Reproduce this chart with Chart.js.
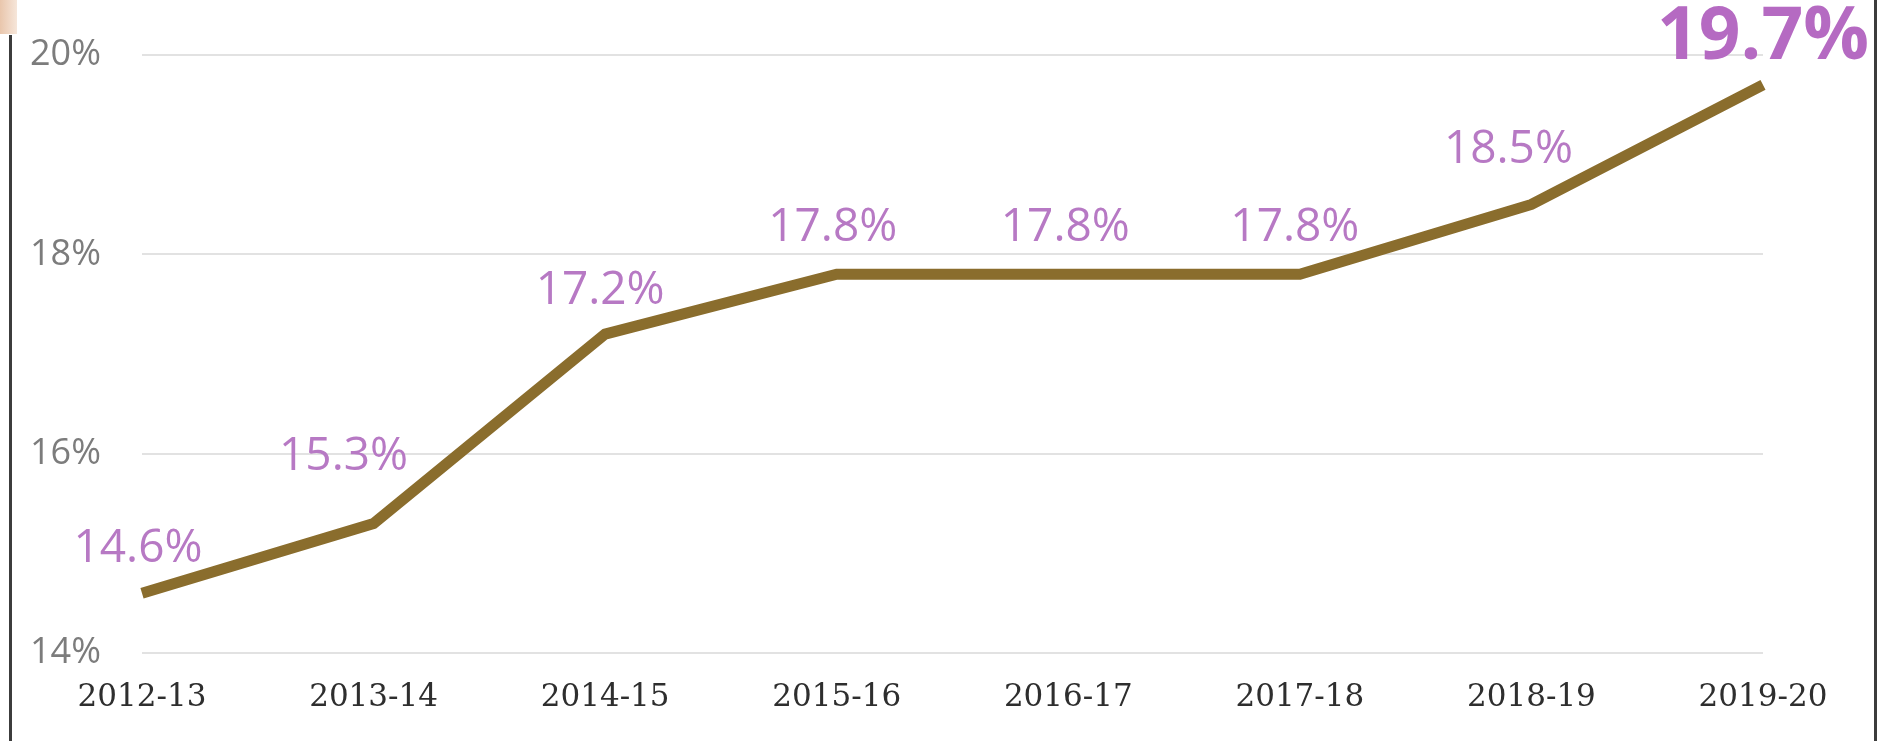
<!DOCTYPE html>
<html>
<head>
<meta charset="utf-8">
<script src="https://cdn.jsdelivr.net/npm/chart.js@4.4.1/dist/chart.umd.min.js"></script>
<style>
  html, body { margin: 0; padding: 0; background: #fff; }
  #wrap { position: relative; width: 1893px; height: 741px; overflow: hidden; }
  #chart { position: absolute; left: 0; top: 0; }
  .edge { position: absolute; background: #3c3c3c; width: 3px; }
  #corner { position: absolute; left: 0; top: 0; width: 17px; height: 34px;
            background: linear-gradient(90deg, #e9c6ac, #f6e6da); }
</style>
</head>
<body>
<div id="wrap">
  <canvas id="chart" width="1893" height="741"></canvas>
  <div id="corner"></div>
  <div class="edge" style="left:9px; top:35px; height:706px;"></div>
  <div class="edge" style="left:1874px; top:0; height:741px;"></div>
</div>
<script>
const years = ['2012-13', '2013-14', '2014-15', '2015-16', '2016-17', '2017-18', '2018-19', '2019-20'];
const shares = [14.6, 15.3, 17.2, 17.8, 17.8, 17.8, 18.5, 19.7];
const yTicks = [14, 16, 18, 20];

// nudges for the value labels (px, relative to the point)
const labelDx = [-4, -30, -5, -4, -3, -5, -23, 0];
const labelDy = [44, 67, 43, 46, 46, 46, 55, 47];

const valueLabels = {
    id: 'valueLabels',
    afterDatasetsDraw(chart) {
        const ctx = chart.ctx;
        const meta = chart.getDatasetMeta(0);
        ctx.save();
        ctx.textAlign = 'center';
        ctx.textBaseline = 'middle';
        meta.data.forEach((pt, i) => {
            const last = i === shares.length - 1;
            ctx.fillStyle = last ? '#b56ac2' : '#b779c4';
            ctx.font = last ? 'bold 73px "Open Sans"' : '46px "Open Sans"';
            ctx.fillText(shares[i].toFixed(1) + '%', pt.x + labelDx[i], pt.y - labelDy[i]);
        });
        ctx.restore();
    }
};

const ctx = document.getElementById('chart').getContext('2d');
new Chart(ctx, {
    type: 'line',
    data: {
        labels: years,
        datasets: [{
            data: shares,
            borderColor: '#8a6d2d',
            borderWidth: 11,
            pointRadius: 0,
            tension: 0,
            fill: false
        }]
    },
    options: {
        responsive: false,
        animation: false,
        layout: { padding: { left: 30, right: 130, top: 55, bottom: 0 } },
        plugins: {
            legend: { display: false },
            tooltip: { enabled: false }
        },
        scales: {
            x: {
                offset: false,
                grid: { display: false, drawTicks: false },
                border: { display: false },
                ticks: {
                    padding: 26,
                    maxRotation: 0,
                    color: '#2e2e2e',
                    font: { family: 'DejaVu Serif', size: 31 }
                },
                afterFit: s => { s.height = 741 - 653; }
            },
            y: {
                min: 14,
                max: 20,
                afterBuildTicks: s => { s.ticks = yTicks.map(v => ({ value: v })); },
                grid: { color: '#e2e2e2', lineWidth: 2, drawTicks: false },
                border: { display: false },
                ticks: {
                    crossAlign: 'far',
                    color: '#7c7c7c',
                    font: { family: 'Open Sans', size: 36 },
                    callback: v => v + '%'
                },
                afterFit: s => { s.width = 112; }
            }
        }
    },
    plugins: [valueLabels]
});
</script>
</body>
</html>
